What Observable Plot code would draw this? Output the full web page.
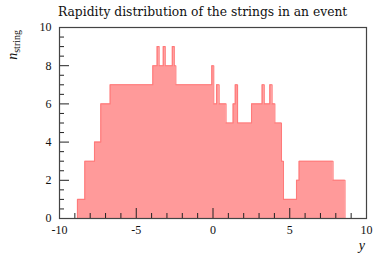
<!DOCTYPE html>
<html><head><meta charset="utf-8">
<script src="https://cdn.jsdelivr.net/npm/d3@7"></script>
<script src="https://cdn.jsdelivr.net/npm/@observablehq/plot@0.6"></script>
<style>body{margin:0;background:#fff}</style>
</head><body><div id="chart"></div>
<script>
// step edges (rapidity) and string counts between consecutive edges
const edges = [-8.83, -8.35, -7.72, -7.31, -6.70, -3.92, -3.64, -3.51, -3.24, -3.11, -2.65, -2.52, -2.42,
  -0.08, 0.05, 0.23, 0.40, 0.85, 1.31, 1.45, 1.60, 2.51, 3.20, 3.34, 3.70, 3.85, 4.03, 4.46, 4.59, 5.44, 5.61, 7.82, 8.60];
const counts = [1, 3, 4, 6, 7, 8, 9, 8, 9, 8, 9, 8, 7,
  8, 6, 7, 6, 5, 6, 7, 5, 6, 7, 6, 7, 6, 5, 3, 1, 2, 3, 2];
const xTicks = [-10, -5, 0, 5, 10];
const xMinor = [-9, -8, -7, -6, -4, -3, -2, -1, 1, 2, 3, 4, 6, 7, 8, 9];
const yTicks = [0, 2, 4, 6, 8, 10];
const yMinor = [0.5, 1, 1.5, 2.5, 3, 3.5, 4.5, 5, 5.5, 6.5, 7, 7.5, 8.5, 9, 9.5];

const pts = [{x: edges[0], n: 0}];
counts.forEach((c, i) => pts.push({x: edges[i], n: c}));
pts.push({x: edges[edges.length - 1], n: 0});

const W = 373, H = 255, ml = 59, mr = 7, mt = 27, mb = 37;
const pw = W - ml - mr, ph = H - mt - mb;
const tickCol = "#222";

const chart = Plot.plot({
  width: W, height: H,
  marginLeft: ml, marginRight: mr, marginTop: mt, marginBottom: mb,
  style: {fontFamily: "Liberation Serif", fontSize: "12px", background: "#fff", color: "#111"},
  x: {domain: [-10, 10], label: null},
  y: {domain: [0, 10], label: null},
  marks: [
    Plot.areaY(pts, {x: "x", y: "n", curve: "step-after", fill: "#ff9a9a"}),
    Plot.lineY(pts, {x: "x", y: "n", curve: "step-after", stroke: "#ff7a7a", strokeWidth: 1.1}),
    Plot.ruleX(xTicks, {x: d => d, insetTop: ph - 10, stroke: tickCol, strokeWidth: 1}),
    Plot.ruleX(xMinor, {x: d => d, insetTop: ph - 5, stroke: tickCol, strokeWidth: 1}),
    Plot.ruleY(yTicks, {y: d => d, insetRight: pw - 10, stroke: tickCol, strokeWidth: 1}),
    Plot.ruleY(yMinor, {y: d => d, insetRight: pw - 5, stroke: tickCol, strokeWidth: 1}),
    Plot.frame({stroke: "#444", strokeWidth: 1.2}),
    Plot.axisX(xTicks, {tickSize: 0, tickPadding: 7, tickFormat: d => String(d), label: null, fontSize: 12}),
    Plot.axisY(yTicks, {tickSize: 0, tickPadding: 8, tickFormat: d => String(d), label: null, fontSize: 12})
  ]
});
document.getElementById("chart").appendChild(chart);

const svg = d3.select(chart);
svg.append("text").attr("x", 58).attr("y", 16).attr("text-anchor", "start")
  .style("font-family", "DejaVu Serif").style("font-size", "12.3px").attr("fill", "#111")
  .text("Rapidity distribution of the strings in an event");
const yl = svg.append("text").attr("transform", "translate(17,30) rotate(-90)")
  .attr("text-anchor", "end").style("font-family", "Liberation Serif").attr("fill", "#111");
yl.append("tspan").style("font-size", "14px").style("font-style", "italic").text("n");
yl.append("tspan").style("font-size", "10px").attr("dy", 3).text("string");
svg.append("text").attr("x", 365).attr("y", 250).attr("text-anchor", "end")
  .style("font-family", "Liberation Serif").style("font-size", "14px").style("font-style", "italic").attr("fill", "#111")
  .text("y");
</script>
</body></html>
